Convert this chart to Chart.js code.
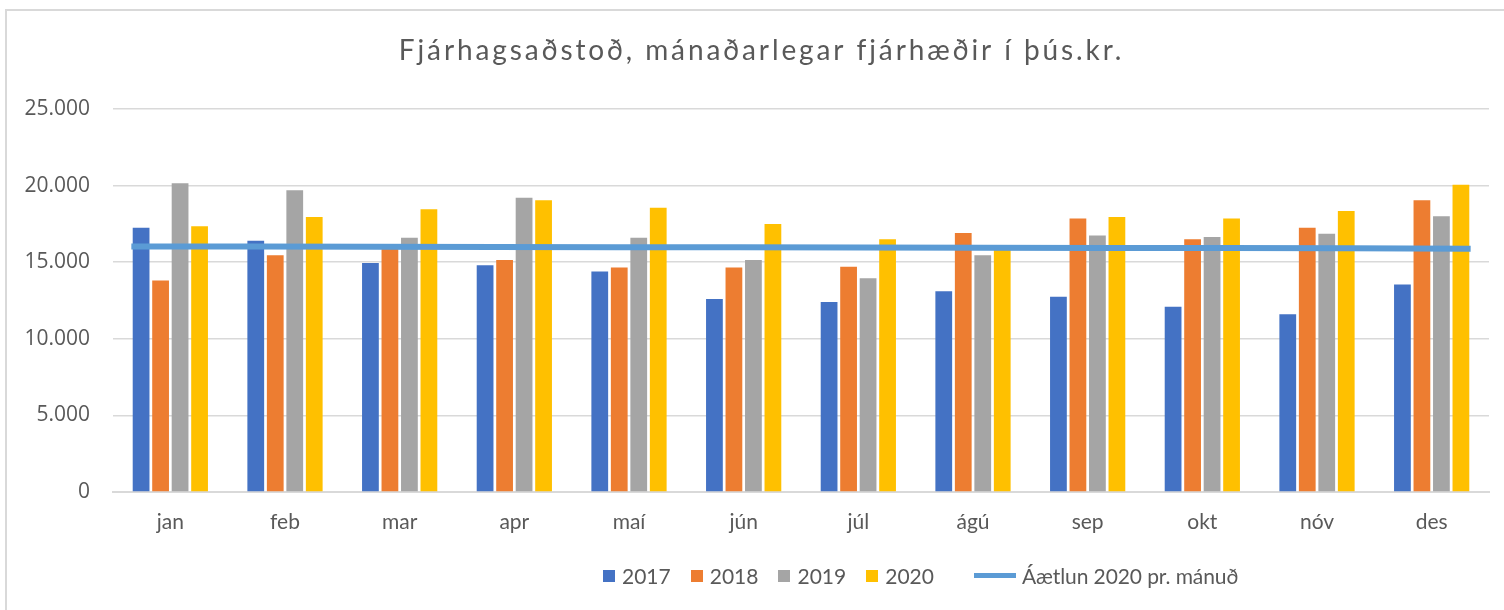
<!DOCTYPE html>
<html>
<head>
<meta charset="utf-8">
<script src="https://cdn.jsdelivr.net/npm/chart.js@4/dist/chart.umd.min.js"></script>
<style>
  html, body { margin: 0; padding: 0; background: #fff; overflow: hidden; }
  #wrap { position: relative; width: 1504px; height: 610px; }
  #frame { position: absolute; left: 5px; top: 9px; width: 1600px; height: 700px; border: 2px solid #D9D9D9; box-sizing: border-box; pointer-events: none; }
  #c { position: absolute; left: 0; top: 0; }
  #legend { position: absolute; left: 603px; top: 563px; display: flex; align-items: center; font-family: Lato, "Open Sans", sans-serif; font-size: 21px; color: #595959; white-space: nowrap; }
  .item { display: flex; align-items: center; margin-right: 20px; }
  .sw { width: 12px; height: 12px; margin-right: 7px; }
  .ln { width: 42px; height: 5px; margin-right: 6px; margin-left: 20px; }
  .lt { letter-spacing: -0.1px; }
</style>
</head>
<body>
<div id="wrap">
  <canvas id="c" width="1504" height="610"></canvas>
  <div id="frame"></div>
  <div id="legend"></div>
</div>
<script>
const months = ['jan','feb','mar','apr','maí','jún','júl','ágú','sep','okt','nóv','des'];
const seriesNames = ['2017','2018','2019','2020'];
const v2017 = [17250,16400,14950,14800,14400,12600,12400,13100,12750,12100,11600,13550];
const v2018 = [13800,15450,15900,15150,14650,14650,14700,16900,17850,16500,17250,19050];
const v2019 = [20150,19700,16600,19200,16600,15150,13950,15450,16750,16650,16850,18000];
const v2020 = [17350,17950,18450,19050,18550,17500,16500,15950,17950,17850,18350,20050];
const planName = 'Áætlun 2020 pr. mánuð';
const plan = [16030,16020,16010,15990,15980,15970,15960,15940,15930,15920,15910,15880];
const yTicks = [0,5000,10000,15000,20000,25000];
const titleText = 'Fjárhagsaðstoð, mánaðarlegar fjárhæðir í þús.kr.';

const colors = ['#4472C4','#ED7D31','#A5A5A5','#FFC000'];
const lineColor = '#5B9BD5';
const textColor = '#595959';
const FONT = 'Lato, "Open Sans", sans-serif';
const TICKFONT = '"Open Sans", Lato, sans-serif';

const catPct = 0.68;
const n = months.length;
// the plan line runs from the outer edge of the first bar group to the outer edge of the last one
const half = catPct / 2;
const stretch = (i) => -half + i * (n - 1 + 2 * half) / (n - 1);

const barSets = [v2017, v2018, v2019, v2020].map((arr, i) => ({
  type: 'bar',
  label: seriesNames[i],
  data: arr.map((v, k) => ({ x: k, y: v })),
  backgroundColor: colors[i],
  categoryPercentage: catPct,
  barPercentage: 0.86,
  order: 2
}));

const lineSet = {
  type: 'line',
  label: planName,
  data: plan.map((v, k) => ({ x: stretch(k), y: v })),
  borderColor: lineColor,
  backgroundColor: lineColor,
  borderWidth: 6,
  pointRadius: 0,
  tension: 0,
  order: 1
};

// title drawn with wider letter spacing and centred a little right, like the original
const titleSpacing = {
  id: 'titleSpacing',
  beforeDraw(chart) {
    const tb = chart.titleBlock;
    if (tb && !tb._spaced) {
      const orig = tb.draw.bind(tb);
      tb.draw = function (area) {
        const c = chart.ctx;
        c.save();
        c.letterSpacing = '2.9px';
        c.translate(17, 0);
        orig(area);
        c.restore();
      };
      tb._spaced = true;
    }
  }
};

const chart = new Chart(document.getElementById('c'), {
  type: 'bar',
  data: { datasets: [...barSets, lineSet] },
  plugins: [titleSpacing],
  options: {
    responsive: false,
    animation: false,
    layout: { padding: { left: 0, right: 15, top: 0, bottom: 0 } },
    plugins: {
      legend: { display: false },
      tooltip: { enabled: false },
      title: {
        display: true,
        text: titleText,
        color: textColor,
        font: { family: FONT, size: 28, weight: 'normal', lineHeight: 1.2 },
        padding: { top: 34, bottom: 41.4 }
      }
    },
    scales: {
      x: {
        type: 'linear',
        offset: false,
        min: -0.5,
        max: n - 0.5,
        afterBuildTicks: (s) => { s.ticks = months.map((m, k) => ({ value: k })); },
        grid: { display: false, drawTicks: false },
        border: { display: true, color: '#D9D9D9', width: 2 },
        ticks: {
          color: textColor,
          font: { family: FONT, size: 21 },
          padding: 18,
          autoSkip: false,
          maxRotation: 0,
          callback: (v) => months[Math.round(v)]
        },
        afterFit: (s) => { s.height = 118; }
      },
      y: {
        min: 0,
        max: 25000,
        afterBuildTicks: (s) => { s.ticks = yTicks.map(v => ({ value: v })); },
        grid: { color: '#D9D9D9', lineWidth: 1.5, drawTicks: false },
        border: { display: false },
        ticks: {
          color: textColor,
          font: { family: TICKFONT, size: 21 },
          padding: 23,
          callback: (v) => v.toString().replace(/\B(?=(\d{3})+(?!\d))/g, '.')
        },
        afterFit: (s) => { s.width = 113; }
      }
    }
  }
});

// legend built from the chart's datasets
const leg = document.getElementById('legend');
chart.data.datasets.forEach((ds) => {
  const isLine = ds.type === 'line';
  const item = document.createElement('div');
  item.className = 'item';
  const sw = document.createElement('span');
  sw.className = isLine ? 'ln' : 'sw';
  sw.style.background = isLine ? ds.borderColor : ds.backgroundColor;
  const t = document.createElement('span');
  t.textContent = ds.label;
  if (isLine) t.className = 'lt';
  item.appendChild(sw);
  item.appendChild(t);
  leg.appendChild(item);
});
</script>
</body>
</html>
